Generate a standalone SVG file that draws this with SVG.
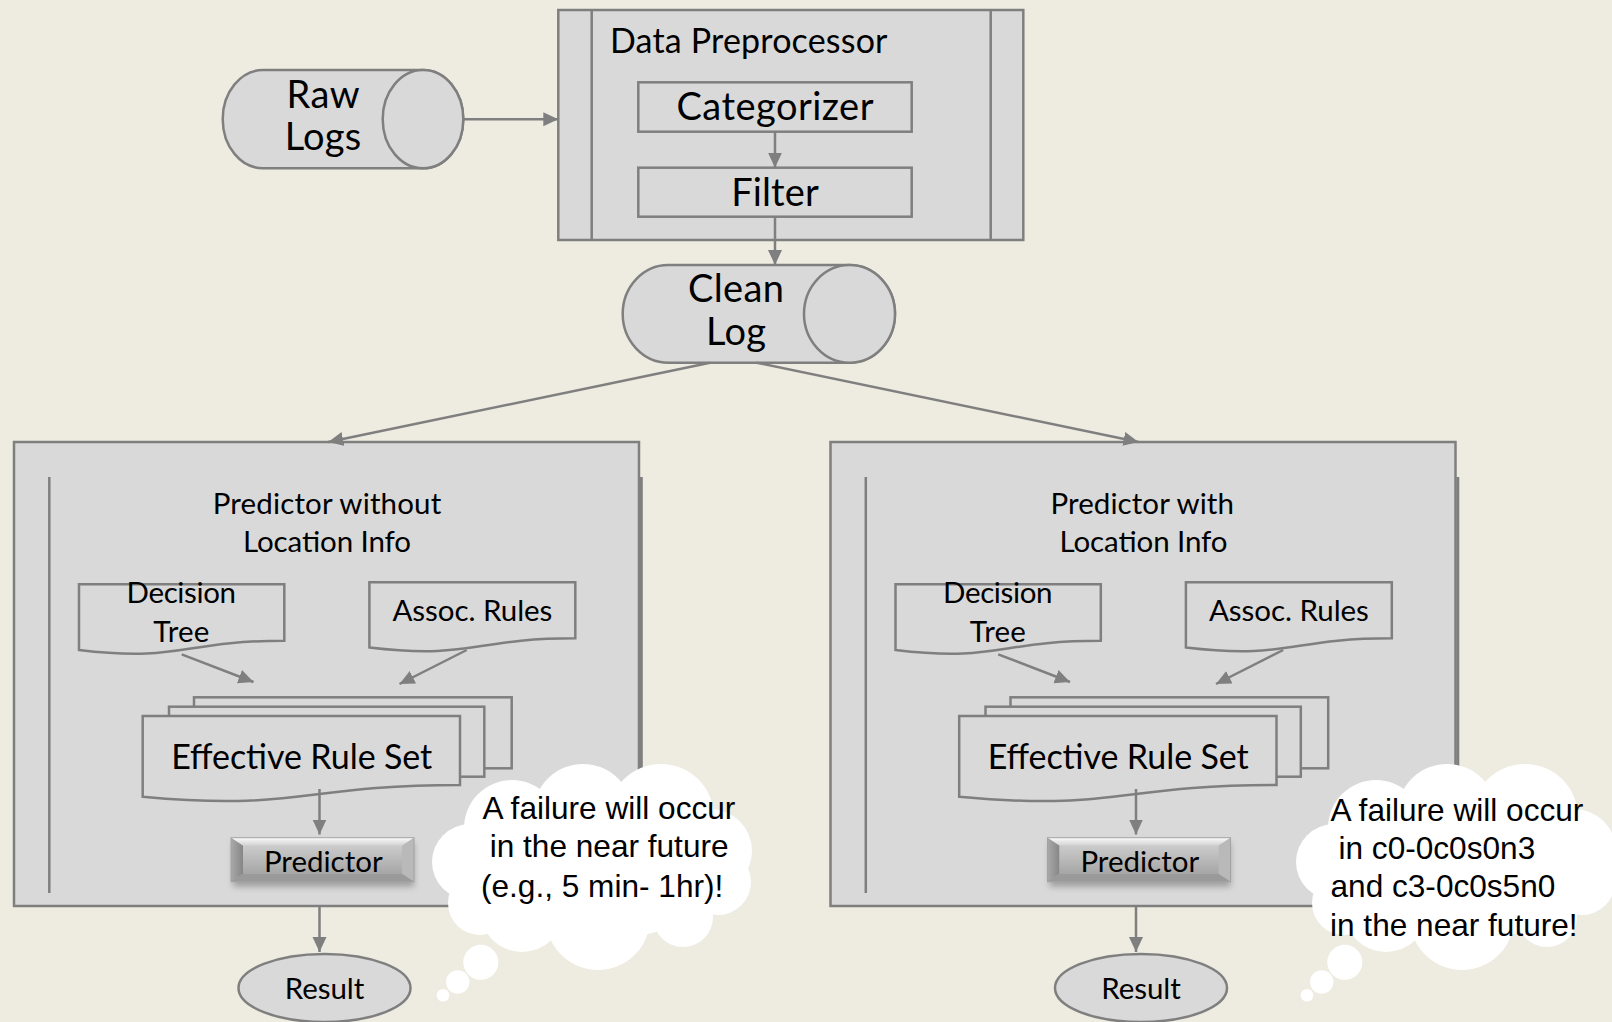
<svg xmlns="http://www.w3.org/2000/svg" width="1612" height="1022" viewBox="0 0 1612 1022">
  <defs>
    <style>
      .shape{fill:#D9D9D9;stroke:#7F7F7F;stroke-width:2.5}
      .ln{fill:none;stroke:#7F7F7F;stroke-width:2.5}
      .edge{fill:none;stroke:#7F7F7F;stroke-width:2.5;marker-end:url(#arrow)}
      .lbl{font-family:Lato,'Open Sans','DejaVu Sans',sans-serif;fill:#000;text-anchor:middle}
      .big{font-size:38px}
      .mid{font-size:34px}
      .sm{font-size:29.5px}
      .note{font-family:'Liberation Sans',Arial,sans-serif;font-size:31.6px;fill:#000}
      .cloud{fill:#FFFFFF}
    </style>
    <marker id="arrow" markerUnits="userSpaceOnUse" markerWidth="16" markerHeight="15" refX="15" refY="7" orient="auto">
      <path d="M0,0 L15,7 L0,14 Z" fill="#7F7F7F"/>
    </marker>
    <linearGradient id="btnFace" x1="0" y1="0" x2="0" y2="1">
      <stop offset="0" stop-color="#cbcbcb"/>
      <stop offset="1" stop-color="#a6a6a6"/>
    </linearGradient>
    <linearGradient id="btnTop" x1="0" y1="0" x2="0" y2="1">
      <stop offset="0" stop-color="#fbfbfb"/>
      <stop offset="1" stop-color="#d2d2d2"/>
    </linearGradient>
    <linearGradient id="btnLeft" x1="0" y1="0" x2="1" y2="0">
      <stop offset="0" stop-color="#a9a9a9"/>
      <stop offset="1" stop-color="#868686"/>
    </linearGradient>
    <filter id="soft" x="-20%" y="-60%" width="140%" height="220%">
      <feGaussianBlur stdDeviation="3"/>
    </filter>
    <!-- bevelled button face, 183 x 44 -->
    <g id="button">
      <rect x="2" y="5" width="181" height="44" fill="#6f6f6f" opacity="0.55" filter="url(#soft)"/>
      <rect x="0" y="0" width="183" height="44" fill="url(#btnFace)"/>
      <polygon points="0,0 183,0 171,8 12,8" fill="url(#btnTop)"/>
      <polygon points="0,0 12,8 12,36 0,44" fill="url(#btnLeft)"/>
      <polygon points="183,0 171,8 171,36 183,44" fill="#b9b9b9"/>
      <polygon points="0,44 12,36 171,36 183,44" fill="#9a9a9a"/>
      <rect x="12" y="8" width="159" height="28" fill="url(#btnFace)"/>
      <rect x="0" y="0" width="183" height="44" fill="none" stroke="#a3a3a3" stroke-width="1"/>
    </g>
    <!-- thought cloud built from overlapping bumps -->
    <g id="cloudShape" class="cloud">
      <ellipse cx="592" cy="866" rx="135" ry="75"/>
      <circle cx="512" cy="828" r="48"/>
      <circle cx="583" cy="814" r="50"/>
      <circle cx="661" cy="817" r="53"/>
      <circle cx="710" cy="851" r="42"/>
      <circle cx="718" cy="882" r="33"/>
      <circle cx="683" cy="917" r="30"/>
      <circle cx="598" cy="918" r="52"/>
      <circle cx="522" cy="910" r="42"/>
      <circle cx="470" cy="862" r="38"/>
      <circle cx="480" cy="903" r="32"/>
      <circle cx="480.8" cy="962.3" r="17.5"/>
      <circle cx="457.7" cy="982" r="11.7"/>
      <circle cx="443" cy="995.3" r="6.3"/>
    </g>
  </defs>

  <rect width="1612" height="1022" fill="#EEECE1"/>

  <!-- source logs -->
  <g id="raw-logs">
    <path class="shape" d="M263,70 H423 A40.3,49.15 0 0 1 423,168.3 H263 A40.3,49.15 0 0 1 263,70 Z"/>
    <ellipse class="shape" cx="423" cy="119.15" rx="40.3" ry="49.15"/>
    <text class="lbl big" x="323" y="108.3" textLength="73">Raw</text>
    <text class="lbl big" x="323" y="150" textLength="76.5">Logs</text>
  </g>

  <!-- preprocessing stage -->
  <g id="data-preprocessor">
    <rect class="shape" x="558.3" y="10" width="465" height="230"/>
    <line class="ln" x1="591.7" y1="10" x2="591.7" y2="240"/>
    <line class="ln" x1="990.7" y1="10" x2="990.7" y2="240"/>
    <text class="lbl" style="font-size:34px;text-anchor:start" x="610" y="53.3" textLength="277.5">Data Preprocessor</text>
  </g>
  <g id="categorizer">
    <rect class="shape" x="638.3" y="82.3" width="273.4" height="49.4"/>
    <text class="lbl big" x="775" y="120" textLength="197">Categorizer</text>
  </g>
  <g id="filter">
    <rect class="shape" x="638.3" y="167.7" width="273.4" height="49"/>
    <text class="lbl big" x="775" y="206" textLength="87.5">Filter</text>
  </g>

  <g id="clean-log">
    <path class="shape" d="M668.2,265 H849.5 A45.5,48.85 0 0 1 849.5,362.7 H668.2 A45.5,48.85 0 0 1 668.2,265 Z"/>
    <ellipse class="shape" cx="849.5" cy="313.85" rx="45.5" ry="48.85"/>
    <text class="lbl big" x="736" y="301.7" textLength="96">Clean</text>
    <text class="lbl big" x="736" y="345" textLength="60">Log</text>
  </g>

  <!-- predictor without location info -->
  <g id="predictor-without-location">
    <rect class="shape" x="14" y="442" width="625" height="464"/>
    <line class="ln" x1="49.3" y1="477" x2="49.3" y2="893"/>
    <line class="ln" x1="641.3" y1="477" x2="641.3" y2="893" style="stroke-width:3"/>
    <text class="lbl sm" x="327" y="514" textLength="228.5">Predictor without</text>
    <text class="lbl sm" x="327" y="551.7" textLength="168">Location Info</text>
  </g>
  <g id="decision-tree-a">
    <path class="shape" d="M79,584.3 H284.3 V640.7 C181.7,640.7 181.7,662.2 79,650 Z"/>
    <text class="lbl sm" x="181.3" y="603.3" textLength="109.5">Decision</text>
    <text class="lbl sm" x="181.3" y="641.7" textLength="56">Tree</text>
  </g>
  <g id="assoc-rules-a">
    <path class="shape" d="M369.4,582.3 H575.3 V638.3 C472.3,638.3 472.3,659.6 369.4,647.5 Z"/>
    <text class="lbl sm" x="472.4" y="620.7" textLength="160">Assoc. Rules</text>
  </g>
  <g id="rule-set-a">
    <rect class="shape" x="194" y="697.3" width="317.7" height="71"/>
    <rect class="shape" x="169" y="706.7" width="315.3" height="70"/>
    <path class="shape" d="M142.7,716 H460 V785 C301.3,785 301.3,811.2 142.7,796.8 Z"/>
    <text class="lbl mid" x="301.8" y="769.3" textLength="261">Effective Rule Set</text>
  </g>
  <g id="predictor-a">
    <use href="#button" transform="translate(231,837.7)"/>
    <text class="lbl sm" x="323.3" y="871.7" textLength="118.7">Predictor</text>
  </g>
  <g id="result-a">
    <ellipse class="shape" cx="324.5" cy="988" rx="86" ry="34"/>
    <text class="lbl sm" x="324.5" y="999.3" textLength="79.7">Result</text>
  </g>

  <!-- predictor with location info -->
  <g id="predictor-with-location">
    <rect class="shape" x="830.5" y="442" width="625" height="464"/>
    <line class="ln" x1="865.8" y1="477" x2="865.8" y2="893"/>
    <line class="ln" x1="1457.8" y1="477" x2="1457.8" y2="893" style="stroke-width:3"/>
    <text class="lbl sm" x="1142.2" y="514" textLength="183.6">Predictor with</text>
    <text class="lbl sm" x="1143.5" y="551.7" textLength="168">Location Info</text>
  </g>
  <g id="decision-tree-b" transform="translate(816.5,0)">
    <path class="shape" d="M79,584.3 H284.3 V640.7 C181.7,640.7 181.7,662.2 79,650 Z"/>
    <text class="lbl sm" x="181.3" y="603.3" textLength="109.5">Decision</text>
    <text class="lbl sm" x="181.3" y="641.7" textLength="56">Tree</text>
  </g>
  <g id="assoc-rules-b" transform="translate(816.5,0)">
    <path class="shape" d="M369.4,582.3 H575.3 V638.3 C472.3,638.3 472.3,659.6 369.4,647.5 Z"/>
    <text class="lbl sm" x="472.4" y="620.7" textLength="160">Assoc. Rules</text>
  </g>
  <g id="rule-set-b" transform="translate(816.5,0)">
    <rect class="shape" x="194" y="697.3" width="317.7" height="71"/>
    <rect class="shape" x="169" y="706.7" width="315.3" height="70"/>
    <path class="shape" d="M142.7,716 H460 V785 C301.3,785 301.3,811.2 142.7,796.8 Z"/>
    <text class="lbl mid" x="301.8" y="769.3" textLength="261">Effective Rule Set</text>
  </g>
  <g id="predictor-b" transform="translate(816.5,0)">
    <use href="#button" transform="translate(231,837.7)"/>
    <text class="lbl sm" x="323.3" y="871.7" textLength="118.7">Predictor</text>
  </g>
  <g id="result-b" transform="translate(816.5,0)">
    <ellipse class="shape" cx="324.5" cy="988" rx="86" ry="34"/>
    <text class="lbl sm" x="324.5" y="999.3" textLength="79.7">Result</text>
  </g>

  <!-- connectors -->
  <g id="connectors">
    <path class="edge" d="M463.3,119.3 H558.3"/>
    <path class="edge" d="M775,131.7 V167.7"/>
    <path class="edge" d="M775,216.7 V265"/>
    <path class="edge" d="M710,362.7 L328.3,442"/>
    <path class="edge" d="M756.7,362.7 L1138.5,442"/>
    <path class="edge" d="M181.7,654.3 L253.5,682"/>
    <path class="edge" d="M466.7,650 L399.5,684"/>
    <path class="edge" d="M319.5,789 V834.5"/>
    <path class="edge" d="M319.5,906 V952"/>
    <path class="edge" d="M998.2,654.3 L1070,682"/>
    <path class="edge" d="M1283.2,650 L1216,684"/>
    <path class="edge" d="M1136,789 V834.5"/>
    <path class="edge" d="M1136,906 V952"/>
  </g>

  <!-- thought callouts -->
  <g id="callout-a">
    <use href="#cloudShape"/>
    <text class="note" x="482.5" y="819">A failure will occur</text>
    <text class="note" x="489.7" y="857">in the near future</text>
    <text class="note" x="481" y="896.5">(e.g., 5 min- 1hr)!</text>
  </g>
  <g id="callout-b">
    <use href="#cloudShape" transform="translate(864,0)"/>
    <text class="note" x="1330.5" y="821">A failure will occur</text>
    <text class="note" x="1338.5" y="859.4">in c0-0c0s0n3</text>
    <text class="note" x="1330.5" y="897.4">and c3-0c0s5n0</text>
    <text class="note" x="1330" y="935.6">in the near future!</text>
  </g>
</svg>
